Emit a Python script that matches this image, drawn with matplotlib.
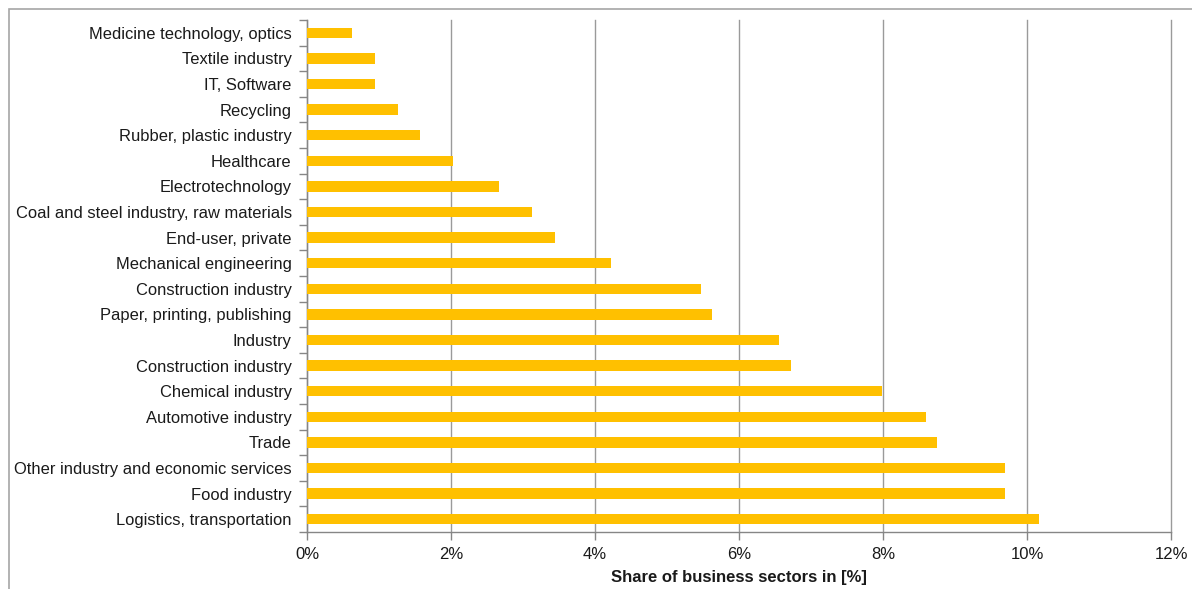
import matplotlib
matplotlib.use("Agg")
import matplotlib.pyplot as plt
from matplotlib.patches import Rectangle
import numpy as np

plt.rcParams['font.family'] = ['Liberation Sans', 'DejaVu Sans']

categories = [
    "Logistics, transportation",
    "Food industry",
    "Other industry and economic services",
    "Trade",
    "Automotive industry",
    "Chemical industry",
    "Construction industry",
    "Industry",
    "Paper, printing, publishing",
    "Construction industry",
    "Mechanical engineering",
    "End-user, private",
    "Coal and steel industry, raw materials",
    "Electrotechnology",
    "Healthcare",
    "Rubber, plastic industry",
    "Recycling",
    "IT, Software",
    "Textile industry",
    "Medicine technology, optics",
]
values = [10.17, 9.70, 9.70, 8.75, 8.60, 7.98, 6.72, 6.56, 5.63, 5.47,
          4.22, 3.44, 3.12, 2.66, 2.03, 1.57, 1.26, 0.94, 0.94, 0.63]
xticks = [0, 2, 4, 6, 8, 10, 12]
xticklabels = ["0%", "2%", "4%", "6%", "8%", "10%", "12%"]

W, H = 1192, 589
fig = plt.figure(figsize=(W / 100, H / 100), dpi=100)
ax = fig.add_axes([307 / W, 1 - 532 / H, 864 / W, 512 / H])

y = np.arange(len(categories))
ax.barh(y, values, height=0.4, color="#FFC000", zorder=3)

ax.set_xlim(0, 12)
ax.set_ylim(-0.5, len(categories) - 0.5)
ax.set_xticks(xticks)
ax.set_xticklabels(xticklabels, fontsize=12, color="#1a1a1a")
ax.set_yticks(y)
ax.set_yticklabels(categories, fontsize=11.9, color="#1a1a1a")
ax.tick_params(axis="y", length=0, pad=11)
ax.set_yticks(np.arange(len(categories) + 1) - 0.5, minor=True)
ax.tick_params(axis="y", which="minor", length=6, color="#868686", width=1, direction="out")
ax.tick_params(axis="x", length=6, color="#868686", width=1, direction="out", pad=4.5)

ax.grid(axis="x", color="#9a9a9a", linewidth=1, zorder=0)
for gl in ax.get_xgridlines():
    gl.set_clip_on(False)
for s in ["top", "right"]:
    ax.spines[s].set_visible(False)
for s in ["left", "bottom"]:
    ax.spines[s].set_color("#868686")
    ax.spines[s].set_linewidth(1)

ax.set_xlabel("Share of business sectors in [%]", fontsize=12, fontweight="bold",
              color="#1a1a1a", labelpad=6)

# outer chart border
fig.patches.append(Rectangle((9 / W, -0.1), 1.2, 1 - 9 / H + 0.1, transform=fig.transFigure,
                             fill=False, edgecolor="#a6a6a6", linewidth=1.2))

fig.savefig("out.png", dpi=100)
